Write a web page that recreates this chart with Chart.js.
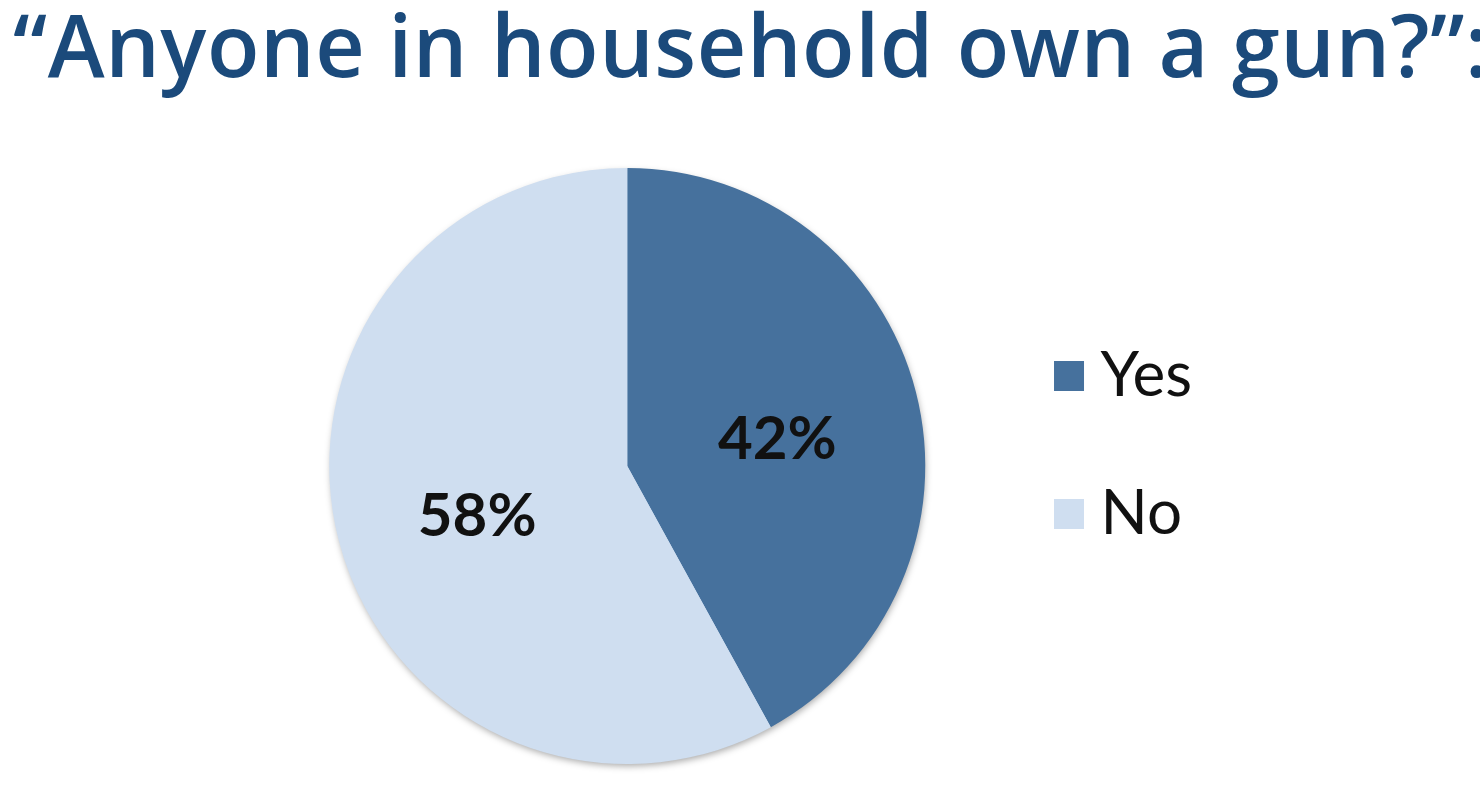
<!DOCTYPE html>
<html lang="en">
<head>
    <meta charset="UTF-8">
    <title>Gun ownership</title>
    <script src="https://cdn.jsdelivr.net/npm/chart.js@4.4.1/dist/chart.umd.min.js"></script>
    <style>
        html, body { margin: 0; padding: 0; background: #fff; overflow: hidden; }
        #zone { position: relative; width: 1480px; height: 795px; overflow: hidden; }
        #titre {
            position: absolute; top: 1px; left: 13px; margin: 0;
            font-family: 'Open Sans', sans-serif; font-weight: 600; font-size: 86px;
            line-height: 1; color: #1b4a7b; white-space: nowrap;
        }
        #titre span { display: inline-block; }
        #graphe { position: absolute; left: 0; top: 0; width: 1480px; height: 795px; }
    </style>
</head>
<body>
<div id="zone">
    <div id="graphe"><canvas id="myChart"></canvas></div>
    <h1 id="titre"><span id="titreTexte"></span><span>:</span></h1>
</div>
<script>
    // Donnees du graphe
    const titre = '\u201CAnyone in household own a gun?\u201D';
    const categories = ['Yes', 'No'];
    const valeurs = [42, 58];
    const couleurs = ['#46719d', '#cfdef0'];

    // Titre : on etire les lettres pour retrouver la largeur de l'original
    const spanTitre = document.getElementById('titreTexte');
    spanTitre.textContent = titre;
    let ajusteTitre = () => {
        spanTitre.style.letterSpacing = '0px';
        const largeur = spanTitre.getBoundingClientRect().width;
        const ecart = (1452 - largeur) / titre.length;
        spanTitre.style.letterSpacing = ecart + 'px';
    };
    ajusteTitre();
    if (document.fonts) document.fonts.ready.then(ajusteTitre);

    // Ombre sous le camembert
    const ombrePie = {
        id: 'ombrePie',
        beforeDatasetsDraw(chart) {
            const arc = chart.getDatasetMeta(0).data[0];
            if (!arc) return;
            const ctx = chart.ctx;
            ctx.save();
            ctx.shadowColor = 'rgba(0,0,0,0.35)';
            ctx.shadowBlur = 7;
            ctx.shadowOffsetX = 1;
            ctx.shadowOffsetY = 3;
            ctx.fillStyle = '#cfdef0';
            ctx.beginPath();
            ctx.arc(arc.x, arc.y, arc.outerRadius - 1, 0, Math.PI * 2);
            ctx.fill();
            ctx.restore();
        }
    };

    // Pourcentages dans les parts
    const etiquettes = {
        id: 'etiquettes',
        afterDatasetsDraw(chart) {
            const ctx = chart.ctx;
            const meta = chart.getDatasetMeta(0);
            ctx.save();
            ctx.font = 'bold 60px Lato';
            ctx.fillStyle = '#111';
            ctx.textAlign = 'center';
            ctx.textBaseline = 'middle';
            meta.data.forEach((arc, i) => {
                const milieu = (arc.startAngle + arc.endAngle) / 2;
                const r = arc.outerRadius * 0.52;
                // petit decalage vers le bas comme dans l'original
                ctx.fillText(valeurs[i] + '%', arc.x + Math.cos(milieu) * r, arc.y + Math.sin(milieu) * r + 12);
            });
            ctx.restore();
        }
    };

    const ctx = document.getElementById('myChart').getContext('2d');
    new Chart(ctx, {
        type: 'pie',
        data: {
            labels: categories,
            datasets: [{
                data: valeurs,
                backgroundColor: couleurs,
                borderWidth: 0
            }]
        },
        options: {
            responsive: true,
            maintainAspectRatio: false,
            animation: false,
            layout: { padding: { top: 126, left: 262, right: 278, bottom: 31 } },
            plugins: {
                // bloc vide : decale la zone du camembert sous la legende
                title: {
                    display: true,
                    text: '',
                    fullSize: false,
                    font: { size: 42, lineHeight: 1.0 },
                    padding: 0
                },
                legend: {
                    position: 'right',
                    labels: {
                        usePointStyle: true,
                        pointStyle: 'rect',
                        boxWidth: 1,
                        boxHeight: 30,
                        padding: 76,
                        color: '#111',
                        font: { family: 'Lato', size: 62 }
                    }
                },
                tooltip: { enabled: false }
            }
        },
        plugins: [ombrePie, etiquettes]
    });
</script>
</body>
</html>
